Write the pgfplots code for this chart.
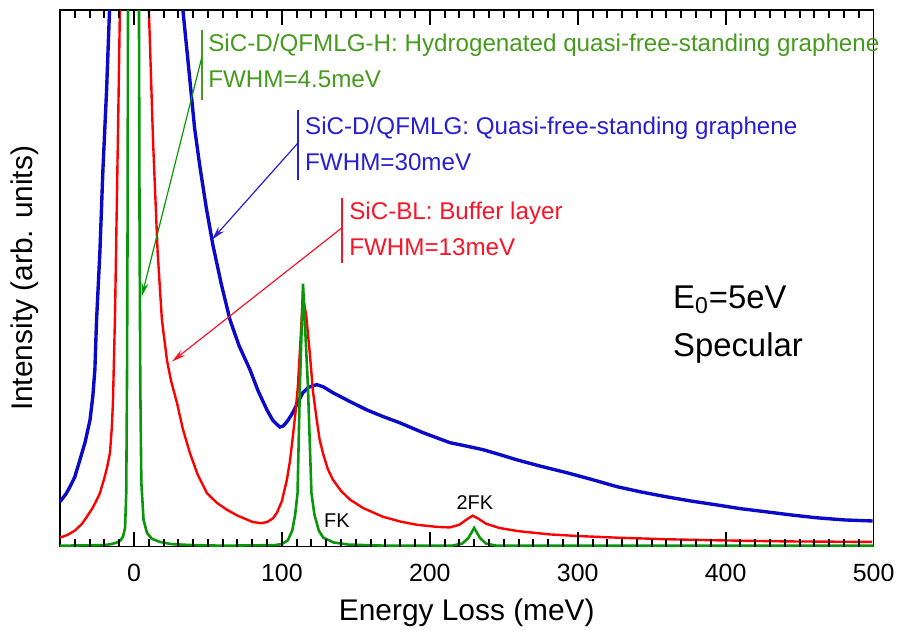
\documentclass[border=0pt]{standalone}
\usepackage{fontspec}
\setmainfont{Liberation Sans}
\usepackage{pgfplots}
\pgfplotsset{compat=1.18}
\usetikzlibrary{arrows.meta}
\definecolor{cblue}{RGB}{10,10,200}
\definecolor{cred}{RGB}{255,0,0}
\definecolor{cgreen}{RGB}{10,150,10}
\definecolor{tgreen}{RGB}{70,155,30}
\definecolor{tblue}{RGB}{40,30,210}
\definecolor{tred}{RGB}{250,20,40}

\begin{document}
\begin{tikzpicture}
\begin{axis}[
    scale only axis,
    width=407bp, height=268.5bp,
    xmin=-50, xmax=500, ymin=0, ymax=1,
    xtick={0,100,200,300,400,500},
    ytick=\empty,
    xtick style={draw=none},
    major tick length=0pt,
    axis line style={line width=0.7pt},
    /pgf/number format/assume math mode=true,
    xticklabel style={font=\fontsize{12.5}{14}\selectfont, anchor=north, yshift=-5bp},
    xlabel={Energy Loss (meV)},
    ylabel={Intensity (arb. units)},
    every axis x label/.style={at={(axis description cs:0.5,0)}, yshift=-33bp, anchor=center, font=\fontsize{15}{18}\selectfont},
    every axis y label/.style={at={(axis description cs:0,0.5)}, xshift=-17.5bp, rotate=90, anchor=center, font=\fontsize{15}{18}\selectfont},
]
% SiC-D/QFMLG (blue)
\addplot[cblue, line width=1.7pt] coordinates {
(-50,0.084)(-46,0.098)(-43.2,0.112)(-40,0.130)(-36.5,0.162)(-33,0.195)(-29.7,0.236)
(-27.8,0.28)(-26.4,0.33)(-25.3,0.42)(-23,0.55)(-21,0.70)(-18.5,0.85)(-16.5,1.0)
(-10,2)(8,5)(25,2)(33.1,1.0)(37.8,0.87)(41,0.78)(44.6,0.708)(49,0.63)(53.4,0.562)
(59,0.49)(64.9,0.423)(71,0.375)(78.4,0.33)(84,0.29)(89.9,0.255)(94,0.235)(98.6,0.223)
(101,0.225)(104,0.235)(107.4,0.25)(111,0.27)(114.2,0.287)(118,0.297)(123.6,0.302)
(128,0.298)(134.5,0.287)(145,0.272)(157.4,0.255)(168,0.243)(179.7,0.231)(195,0.213)
(213.5,0.194)(224,0.188)(235.8,0.181)(247,0.172)(258.8,0.162)(275,0.150)(292.6,0.138)
(310,0.125)(326.4,0.112)(343,0.102)(360.1,0.093)(377,0.085)(393.9,0.078)(410,0.071)
(427.7,0.065)(445,0.059)(461.5,0.054)(480,0.050)(499.3,0.048)
};
% SiC-BL (red)
\addplot[cred, line width=1.2pt] coordinates {
(-50,0.017)(-45,0.022)(-40,0.030)(-35,0.043)(-31.8,0.056)(-28,0.072)(-25,0.088)
(-23,0.100)(-20,0.128)(-18,0.150)(-16.2,0.175)(-15,0.22)(-14.2,0.268)(-13.5,0.35)
(-12.8,0.43)(-11.5,0.65)(-10.5,0.82)(-9.5,1.0)(-7,1.6)(0,5)(7,1.6)(10.1,1.0)(13,0.75)
(16,0.55)(18.9,0.423)(22.3,0.348)(25,0.31)(29.1,0.268)(33,0.22)(37.8,0.175)(43,0.135)
(49.3,0.100)(56,0.082)(62.8,0.069)(70,0.058)(80.4,0.046)(86,0.044)(90,0.046)(94,0.053)
(96.6,0.063)(100,0.085)(103.4,0.125)(105.5,0.16)(107.4,0.205)(109.2,0.25)(110.8,0.298)
(112.5,0.38)(114.2,0.467)(116.5,0.43)(118.9,0.36)(121,0.29)(123.6,0.236)(125.5,0.2)
(127.7,0.175)(131,0.145)(134.5,0.125)(140,0.104)(146,0.088)(155,0.072)(168.2,0.056)
(180,0.047)(191.2,0.041)(205,0.037)(213.5,0.036)(220,0.041)(225,0.051)(229,0.058)
(233,0.052)(238,0.043)(247,0.035)(260,0.029)(281,0.023)(300,0.020)(326,0.017)
(360,0.014)(394,0.012)(440,0.010)(499,0.009)
};
% SiC-D/QFMLG-H (green)
\addplot[cgreen, line width=1.3pt] coordinates {
(-50,0.002)(-20,0.003)(-15,0.005)(-11.5,0.008)(-9,0.012)(-7.4,0.019)(-6,0.035)
(-5.2,0.1)(-4.7,0.3)(-4.3,0.6)(-4,1.0)(-3,3)(0,5)(3,3)(3.4,1.0)(3.8,0.6)(4.3,0.3)
(5,0.12)(6.5,0.05)(8.8,0.026)(12,0.015)(17.6,0.009)(25,0.005)(40,0.003)(60,0.002)
(95,0.003)(100,0.005)(104,0.012)(107,0.03)(109,0.06)(110.6,0.1)(112.2,0.3)(114.3,0.49)
(117.6,0.3)(120,0.1)(122,0.06)(125,0.03)(128,0.017)(135,0.008)(145,0.004)(170,0.002)
(215,0.002)(222,0.006)(226,0.016)(230,0.035)(234,0.016)(238,0.006)(245,0.002)(500,0.002)
};
% inward tick marks, bottom edge (minor 4bp, major 7.5bp of a 268.5bp high axis)
\addplot[ycomb, black, line width=1pt, forget plot] coordinates {
(-40,0.0149)(-30,0.0149)(-20,0.0149)(-10,0.0149)(0,0.0279)
(10,0.0149)(20,0.0149)(30,0.0149)(40,0.0149)(50,0.0149)(60,0.0149)(70,0.0149)(80,0.0149)(90,0.0149)(100,0.0279)
(110,0.0149)(120,0.0149)(130,0.0149)(140,0.0149)(150,0.0149)(160,0.0149)(170,0.0149)(180,0.0149)(190,0.0149)(200,0.0279)
(210,0.0149)(220,0.0149)(230,0.0149)(240,0.0149)(250,0.0149)(260,0.0149)(270,0.0149)(280,0.0149)(290,0.0149)(300,0.0279)
(310,0.0149)(320,0.0149)(330,0.0149)(340,0.0149)(350,0.0149)(360,0.0149)(370,0.0149)(380,0.0149)(390,0.0149)(400,0.0279)
(410,0.0149)(420,0.0149)(430,0.0149)(440,0.0149)(450,0.0149)(460,0.0149)(470,0.0149)(480,0.0149)(490,0.0149)
};
% inward tick marks, top edge
\addplot[black, line width=1pt, unbounded coords=jump, forget plot] coordinates {
(-40,1)(-40,0.9851)(-40,nan)(-30,1)(-30,0.9851)(-30,nan)(-20,1)(-20,0.9851)(-20,nan)(-10,1)(-10,0.9851)(-10,nan)
(0,1)(0,0.9721)(0,nan)
(10,1)(10,0.9851)(10,nan)(20,1)(20,0.9851)(20,nan)(30,1)(30,0.9851)(30,nan)(40,1)(40,0.9851)(40,nan)(50,1)(50,0.9851)(50,nan)
(60,1)(60,0.9851)(60,nan)(70,1)(70,0.9851)(70,nan)(80,1)(80,0.9851)(80,nan)(90,1)(90,0.9851)(90,nan)
(100,1)(100,0.9721)(100,nan)
(110,1)(110,0.9851)(110,nan)(120,1)(120,0.9851)(120,nan)(130,1)(130,0.9851)(130,nan)(140,1)(140,0.9851)(140,nan)(150,1)(150,0.9851)(150,nan)
(160,1)(160,0.9851)(160,nan)(170,1)(170,0.9851)(170,nan)(180,1)(180,0.9851)(180,nan)(190,1)(190,0.9851)(190,nan)
(200,1)(200,0.9721)(200,nan)
(210,1)(210,0.9851)(210,nan)(220,1)(220,0.9851)(220,nan)(230,1)(230,0.9851)(230,nan)(240,1)(240,0.9851)(240,nan)(250,1)(250,0.9851)(250,nan)
(260,1)(260,0.9851)(260,nan)(270,1)(270,0.9851)(270,nan)(280,1)(280,0.9851)(280,nan)(290,1)(290,0.9851)(290,nan)
(300,1)(300,0.9721)(300,nan)
(310,1)(310,0.9851)(310,nan)(320,1)(320,0.9851)(320,nan)(330,1)(330,0.9851)(330,nan)(340,1)(340,0.9851)(340,nan)(350,1)(350,0.9851)(350,nan)
(360,1)(360,0.9851)(360,nan)(370,1)(370,0.9851)(370,nan)(380,1)(380,0.9851)(380,nan)(390,1)(390,0.9851)(390,nan)
(400,1)(400,0.9721)(400,nan)
(410,1)(410,0.9851)(410,nan)(420,1)(420,0.9851)(420,nan)(430,1)(430,0.9851)(430,nan)(440,1)(440,0.9851)(440,nan)(450,1)(450,0.9851)(450,nan)
(460,1)(460,0.9851)(460,nan)(470,1)(470,0.9851)(470,nan)(480,1)(480,0.9851)(480,nan)(490,1)(490,0.9851)
};
% anchor points for the annotations
\coordinate (gb1) at (45.9,0.963); \coordinate (gb2) at (45.9,0.832);
\coordinate (ga1) at (45.9,0.912); \coordinate (ga2) at (5.2,0.466);
\coordinate (gt1) at (50,0.935);   \coordinate (gt2) at (50,0.870);
\coordinate (bb1) at (110.8,0.814); \coordinate (bb2) at (110.8,0.683);
\coordinate (ba1) at (110.8,0.752); \coordinate (ba2) at (52.7,0.572);
\coordinate (bt1) at (115.5,0.780); \coordinate (bt2) at (115.5,0.717);
\coordinate (rb1) at (140.5,0.650); \coordinate (rb2) at (140.5,0.529);
\coordinate (ra1) at (140.5,0.594); \coordinate (ra2) at (25.7,0.345);
\coordinate (rt1) at (145.3,0.622); \coordinate (rt2) at (145.3,0.559);
\coordinate (e1) at (364.2,0.46);  \coordinate (e2) at (364.2,0.371);
\coordinate (fk) at (137.2,0.048); \coordinate (fk2) at (230.4,0.082);
\end{axis}
\tikzset{ann/.style={anchor=west, inner sep=0pt, font=\fontsize{12.15}{14}\selectfont}}
\draw[tgreen, line width=1.2pt] (gb1) -- (gb2);
\draw[cgreen, line width=0.6pt, -{Stealth[length=7bp,width=3.5bp]}] (ga1) -- (ga2);
\node[ann, tgreen] at (gt1) {SiC-D/QFMLG-H: Hydrogenated quasi-free-standing graphene};
\node[ann, tgreen] at (gt2) {FWHM=4.5meV};
\draw[tblue, line width=1.2pt] (bb1) -- (bb2);
\draw[tblue, line width=0.6pt, -{Stealth[length=7bp,width=3.5bp]}] (ba1) -- (ba2);
\node[ann, tblue] at (bt1) {SiC-D/QFMLG: Quasi-free-standing graphene};
\node[ann, tblue] at (bt2) {FWHM=30meV};
\draw[tred, line width=1.2pt] (rb1) -- (rb2);
\draw[tred, line width=0.6pt, -{Stealth[length=7bp,width=3.5bp]}] (ra1) -- (ra2);
\node[ann, tred] at (rt1) {SiC-BL: Buffer layer};
\node[ann, tred] at (rt2) {FWHM=13meV};
\node[anchor=west, inner sep=0pt, font=\fontsize{16.5}{19}\selectfont] at (e1) {E\textsubscript{0}=5eV};
\node[anchor=west, inner sep=0pt, font=\fontsize{16.5}{19}\selectfont] at (e2) {Specular};
\node[inner sep=0pt, font=\fontsize{10}{12}\selectfont] at (fk) {FK};
\node[inner sep=0pt, font=\fontsize{10}{12}\selectfont] at (fk2) {2FK};
\path ([shift={(-30bp,-42bp)}]current axis.south west) rectangle ([shift={(13.5bp,5bp)}]current axis.north east);
\end{tikzpicture}
\end{document}
